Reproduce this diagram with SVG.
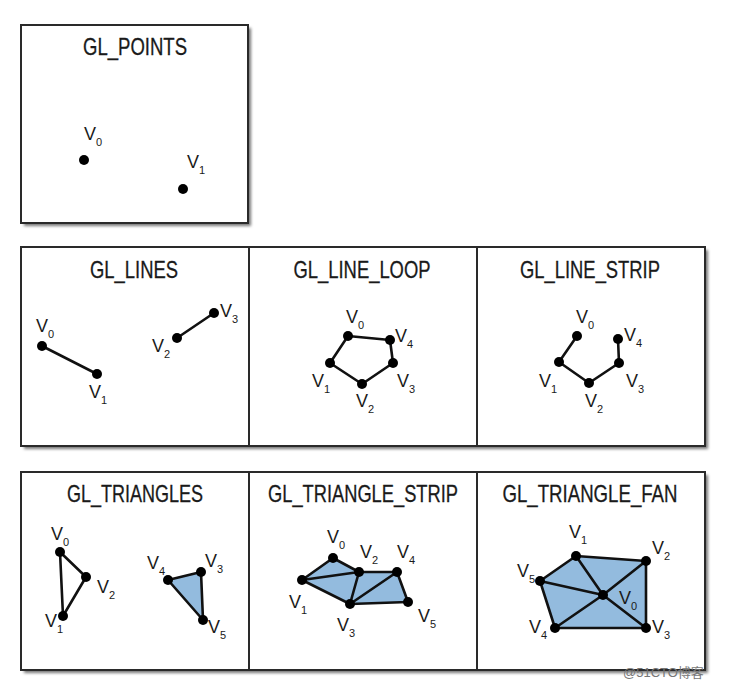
<svg xmlns="http://www.w3.org/2000/svg" width="730" height="690" viewBox="0 0 730 690">
<defs>
<filter id="sh" x="-5%" y="-5%" width="110%" height="110%"><feGaussianBlur stdDeviation="1.5"/></filter>
<style>
.box{fill:#fff;stroke:#2a2a2a;stroke-width:2}
.shadow{fill:#777;filter:url(#sh)}
.div{stroke:#2a2a2a;stroke-width:2}
.title{font-family:"Liberation Sans Narrow","Liberation Sans",Arial,sans-serif;font-size:24px;fill:#1a1a1a;text-anchor:middle;stroke:#1a1a1a;stroke-width:0.3}
.v{font-family:"Liberation Sans Narrow","Liberation Sans",Arial,sans-serif;font-size:18px;fill:#1a1a1a}
.s{font-size:11px}
.e{stroke:#111;stroke-width:2.6;fill:none;stroke-linecap:round;stroke-linejoin:round}
.f{fill:#93bbde;stroke:none}
.d{fill:#000}
.wm{font-family:"Liberation Sans","Noto Sans CJK SC",sans-serif;font-size:13px;fill:#777}
</style>
</defs>
<rect width="730" height="690" fill="#fff"/>

<!-- GL_POINTS panel -->
<g id="panel-points">
<rect class="shadow" x="24" y="28" width="227" height="198"/>
<rect class="box" x="21" y="25" width="227" height="198"/>
<text class="title" x="135" y="55" textLength="104" lengthAdjust="spacingAndGlyphs">GL_POINTS</text>
<g id="points-v0"><circle class="d" cx="84" cy="160" r="5"/><text class="v" x="84" y="140">V<tspan class="s" dy="6">0</tspan></text></g>
<g id="points-v1"><circle class="d" cx="183" cy="189" r="5"/><text class="v" x="187" y="168">V<tspan class="s" dy="6">1</tspan></text></g>
</g>

<!-- Row 2 frame -->
<g id="row2">
<rect class="shadow" x="24" y="250" width="684" height="199"/>
<rect class="box" x="21" y="247" width="684" height="199"/>
<line class="div" x1="249" y1="247" x2="249" y2="446"/>
<line class="div" x1="477" y1="247" x2="477" y2="446"/>
</g>

<!-- GL_LINES -->
<g id="panel-lines">
<text class="title" x="134" y="278" textLength="88" lengthAdjust="spacingAndGlyphs">GL_LINES</text>
<g id="lines-connectors">
<line class="e" x1="42" y1="346" x2="97" y2="374"/>
<line class="e" x1="177" y1="338" x2="214" y2="313"/>
</g>
<g id="lines-v0"><circle class="d" cx="42" cy="346" r="5"/><text class="v" x="36" y="332">V<tspan class="s" dy="6">0</tspan></text></g>
<g id="lines-v1"><circle class="d" cx="97" cy="374" r="5"/><text class="v" x="89" y="398">V<tspan class="s" dy="6">1</tspan></text></g>
<g id="lines-v2"><circle class="d" cx="177" cy="338" r="5"/><text class="v" x="152" y="352">V<tspan class="s" dy="6">2</tspan></text></g>
<g id="lines-v3"><circle class="d" cx="214" cy="313" r="5"/><text class="v" x="220" y="317">V<tspan class="s" dy="6">3</tspan></text></g>
</g>

<!-- GL_LINE_LOOP -->
<g id="panel-line-loop">
<text class="title" x="362" y="278" textLength="137" lengthAdjust="spacingAndGlyphs">GL_LINE_LOOP</text>
<g id="loop-connectors">
<polygon class="e" points="348,336 390,340 393,363 362,384 330,363"/>
</g>
<g id="loop-v0"><circle class="d" cx="348" cy="336" r="5"/><text class="v" x="346" y="323">V<tspan class="s" dy="6">0</tspan></text></g>
<g id="loop-v1"><circle class="d" cx="330" cy="363" r="5"/><text class="v" x="312" y="387">V<tspan class="s" dy="6">1</tspan></text></g>
<g id="loop-v2"><circle class="d" cx="362" cy="384" r="5"/><text class="v" x="356" y="407">V<tspan class="s" dy="6">2</tspan></text></g>
<g id="loop-v3"><circle class="d" cx="393" cy="363" r="5"/><text class="v" x="397" y="387">V<tspan class="s" dy="6">3</tspan></text></g>
<g id="loop-v4"><circle class="d" cx="390" cy="340" r="5"/><text class="v" x="395" y="342">V<tspan class="s" dy="6">4</tspan></text></g>
</g>

<!-- GL_LINE_STRIP -->
<g id="panel-line-strip">
<text class="title" x="590" y="278" textLength="140" lengthAdjust="spacingAndGlyphs">GL_LINE_STRIP</text>
<g id="strip-connectors">
<polyline class="e" points="577,336 559,362 589,383 619,363 618,339"/>
</g>
<g id="strip-v0"><circle class="d" cx="577" cy="336" r="5"/><text class="v" x="576" y="323">V<tspan class="s" dy="6">0</tspan></text></g>
<g id="strip-v1"><circle class="d" cx="559" cy="362" r="5"/><text class="v" x="539" y="387">V<tspan class="s" dy="6">1</tspan></text></g>
<g id="strip-v2"><circle class="d" cx="589" cy="383" r="5"/><text class="v" x="585" y="407">V<tspan class="s" dy="6">2</tspan></text></g>
<g id="strip-v3"><circle class="d" cx="619" cy="363" r="5"/><text class="v" x="626" y="387">V<tspan class="s" dy="6">3</tspan></text></g>
<g id="strip-v4"><circle class="d" cx="618" cy="339" r="5"/><text class="v" x="624" y="341">V<tspan class="s" dy="6">4</tspan></text></g>
</g>

<!-- Row 3 frame -->
<g id="row3">
<rect class="shadow" x="24" y="475" width="684" height="198"/>
<rect class="box" x="21" y="472" width="684" height="198"/>
<line class="div" x1="249" y1="472" x2="249" y2="670"/>
<line class="div" x1="477" y1="472" x2="477" y2="670"/>
</g>

<!-- GL_TRIANGLES -->
<g id="panel-triangles">
<text class="title" x="135" y="502" textLength="136" lengthAdjust="spacingAndGlyphs">GL_TRIANGLES</text>
<polygon class="f" points="168,580 201,572 203,620"/>
<g id="tri-connectors">
<polygon class="e" points="60,552 86,577 63,616"/>
<polygon class="e" points="168,580 201,572 203,620"/>
</g>
<g id="tri-v0"><circle class="d" cx="60" cy="552" r="5"/><text class="v" x="51" y="540">V<tspan class="s" dy="6">0</tspan></text></g>
<g id="tri-v1"><circle class="d" cx="63" cy="616" r="5"/><text class="v" x="45" y="627">V<tspan class="s" dy="6">1</tspan></text></g>
<g id="tri-v2"><circle class="d" cx="86" cy="577" r="5"/><text class="v" x="97" y="593">V<tspan class="s" dy="6">2</tspan></text></g>
<g id="tri-v3"><circle class="d" cx="201" cy="572" r="5"/><text class="v" x="205" y="567">V<tspan class="s" dy="6">3</tspan></text></g>
<g id="tri-v4"><circle class="d" cx="168" cy="580" r="5"/><text class="v" x="147" y="569">V<tspan class="s" dy="6">4</tspan></text></g>
<g id="tri-v5"><circle class="d" cx="203" cy="620" r="5"/><text class="v" x="208" y="633">V<tspan class="s" dy="6">5</tspan></text></g>
</g>

<!-- GL_TRIANGLE_STRIP -->
<g id="panel-triangle-strip">
<text class="title" x="363" y="502" textLength="190" lengthAdjust="spacingAndGlyphs">GL_TRIANGLE_STRIP</text>
<polygon class="f" points="302,580 333,558 359,572 397,572 408,602 350,604"/>
<g id="tstrip-connectors">
<polygon class="e" points="302,580 333,558 359,572 397,572 408,602 350,604"/>
<line class="e" x1="302" y1="580" x2="359" y2="572"/>
<line class="e" x1="359" y1="572" x2="350" y2="604"/>
<line class="e" x1="350" y1="604" x2="397" y2="572"/>
</g>
<g id="tstrip-v0"><circle class="d" cx="333" cy="558" r="5"/><text class="v" x="327" y="543">V<tspan class="s" dy="6">0</tspan></text></g>
<g id="tstrip-v1"><circle class="d" cx="302" cy="580" r="5"/><text class="v" x="289" y="608">V<tspan class="s" dy="6">1</tspan></text></g>
<g id="tstrip-v2"><circle class="d" cx="359" cy="572" r="5"/><text class="v" x="360" y="558">V<tspan class="s" dy="6">2</tspan></text></g>
<g id="tstrip-v3"><circle class="d" cx="350" cy="604" r="5"/><text class="v" x="337" y="631">V<tspan class="s" dy="6">3</tspan></text></g>
<g id="tstrip-v4"><circle class="d" cx="397" cy="572" r="5"/><text class="v" x="397" y="558">V<tspan class="s" dy="6">4</tspan></text></g>
<g id="tstrip-v5"><circle class="d" cx="408" cy="602" r="5"/><text class="v" x="418" y="622">V<tspan class="s" dy="6">5</tspan></text></g>
</g>

<!-- GL_TRIANGLE_FAN -->
<g id="panel-triangle-fan">
<text class="title" x="590" y="502" textLength="175" lengthAdjust="spacingAndGlyphs">GL_TRIANGLE_FAN</text>
<polygon class="f" points="576,556 646,561 646,628 555,628 540,581"/>
<g id="fan-connectors">
<polygon class="e" points="576,556 646,561 646,628 555,628 540,581"/>
<line class="e" x1="603" y1="595" x2="576" y2="556"/>
<line class="e" x1="603" y1="595" x2="646" y2="561"/>
<line class="e" x1="603" y1="595" x2="646" y2="628"/>
<line class="e" x1="603" y1="595" x2="555" y2="628"/>
<line class="e" x1="603" y1="595" x2="540" y2="581"/>
</g>
<g id="fan-v0"><circle class="d" cx="603" cy="595" r="5"/><text class="v" x="619" y="604">V<tspan class="s" dy="6">0</tspan></text></g>
<g id="fan-v1"><circle class="d" cx="576" cy="556" r="5"/><text class="v" x="569" y="538">V<tspan class="s" dy="6">1</tspan></text></g>
<g id="fan-v2"><circle class="d" cx="646" cy="561" r="5"/><text class="v" x="652" y="554">V<tspan class="s" dy="6">2</tspan></text></g>
<g id="fan-v3"><circle class="d" cx="646" cy="628" r="5"/><text class="v" x="652" y="633">V<tspan class="s" dy="6">3</tspan></text></g>
<g id="fan-v4"><circle class="d" cx="555" cy="628" r="5"/><text class="v" x="529" y="633">V<tspan class="s" dy="6">4</tspan></text></g>
<g id="fan-v5"><circle class="d" cx="540" cy="581" r="5"/><text class="v" x="517" y="577">V<tspan class="s" dy="6">5</tspan></text></g>
</g>

<text class="wm" x="623" y="677">@51CTO博客</text>
</svg>
